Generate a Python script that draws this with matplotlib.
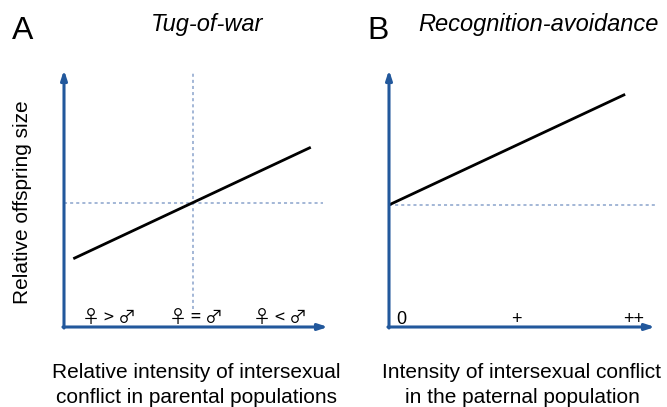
import matplotlib.pyplot as plt

plt.rcParams['font.family'] = ['Liberation Sans', 'DejaVu Sans']

# panel A: tug-of-war
a_x = [0.04, 0.93]
a_y = [0.268, 0.697]
a_cross_x = 0.489
a_cross_y = 0.482
a_ticks = [0.17, 0.50, 0.82]
a_labels = ['♀ > ♂', '♀ = ♂', '♀ < ♂']

# panel B: recognition-avoidance
b_x = [0.0, 0.883]
b_y = [0.475, 0.903]
b_base = 0.475
b_ticks = [0.045, 0.48, 0.92]
b_labels = ['0', '+', '++']

axis_col = '#22589c'
dot_col = '#8aa3cc'

W, H = 667, 407
fig = plt.figure(figsize=(W / 100, H / 100), dpi=100)
axA = fig.add_axes([64/W, 80/H, 264/W, 257/H])
axB = fig.add_axes([389/W, 80/H, 266/W, 257/H])


def frame(ax):
    ax.set_xlim(0, 1)
    ax.set_ylim(0, 1)
    for s in ax.spines.values():
        s.set_visible(False)
    ax.set_xticks([])
    ax.set_yticks([])
    style = '-|>,head_length=0.55,head_width=0.18'
    ax.annotate('', xy=(1.0, 0), xytext=(-0.004, 0), xycoords='axes fraction',
                arrowprops=dict(arrowstyle=style, color=axis_col, lw=2.2,
                                shrinkA=0, shrinkB=0))
    ax.annotate('', xy=(0, 1.0), xytext=(0, -0.004), xycoords='axes fraction',
                arrowprops=dict(arrowstyle=style, color=axis_col, lw=2.2,
                                shrinkA=0, shrinkB=0))


def ftext(x, y, s, **kw):
    fig.text(x / W, 1 - y / H, s, ha='center', va='center', **kw)


frame(axA)
axA.plot([0, 0.98], [a_cross_y, a_cross_y], ls=(0, (2, 2)), color=dot_col, lw=1.1)
axA.plot([a_cross_x, a_cross_x], [0.07, 0.99], ls=(0, (2, 2)), color=dot_col, lw=1.1)
axA.plot(a_x, a_y, color='black', lw=2.0)
for xt, lab in zip(a_ticks, a_labels):
    axA.text(xt, 0.035, lab, ha='center', va='center', fontsize=13,
             family=['Noto Sans CJK JP', 'DejaVu Sans'])

frame(axB)
axB.plot([0, 1.0], [b_base, b_base], ls=(0, (2, 2)), color=dot_col, lw=1.1)
axB.plot(b_x, b_y, color='black', lw=2.0)
for xt, lab in zip(b_ticks, b_labels):
    axB.text(xt, 0.03, lab, ha='center', va='center', fontsize=13)

ftext(23, 202, 'Relative offspring size', fontsize=15, rotation=90)
ftext(196, 385, 'Relative intensity of intersexual\nconflict in parental populations',
      fontsize=15, linespacing=1.35)
ftext(522, 385, 'Intensity of intersexual conflict\nin the paternal population',
      fontsize=15, linespacing=1.35)
ftext(207, 25, 'Tug-of-war', fontsize=17, style='italic')
ftext(538, 25, 'Recognition-avoidance', fontsize=17, style='italic')
ftext(23, 31, 'A', fontsize=23)
ftext(378, 31, 'B', fontsize=23)

fig.savefig('out.png', dpi=100)
